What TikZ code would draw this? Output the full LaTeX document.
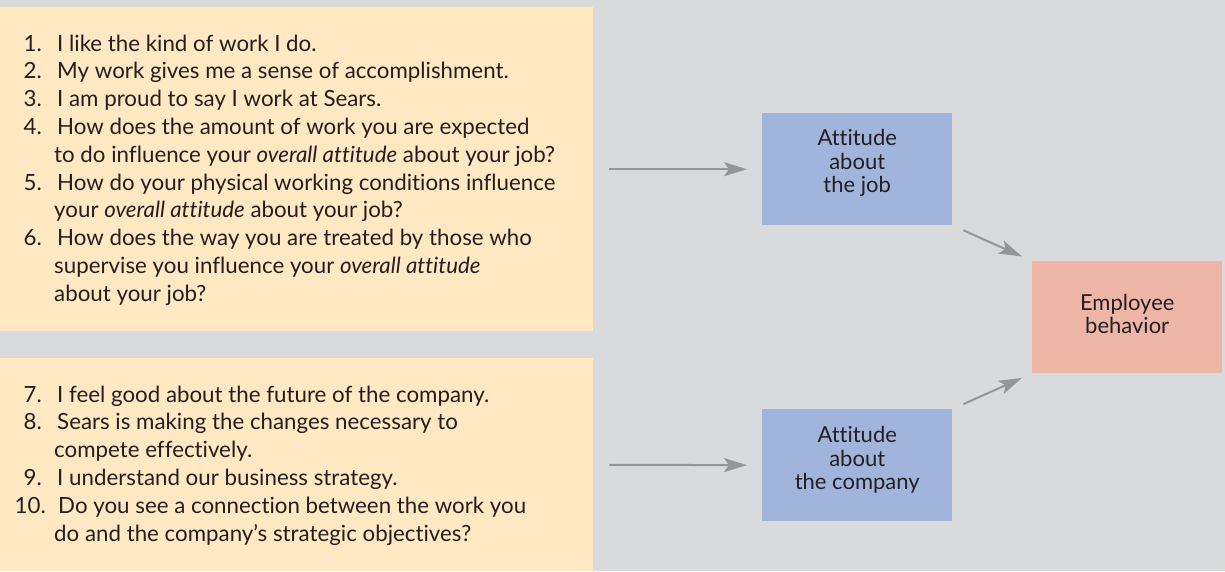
\documentclass[tikz,border=0pt]{standalone}
\usepackage{fontspec}
\setmainfont{Lato}[Ligatures=NoCommon]
\usetikzlibrary{arrows.meta}
\definecolor{bg}{HTML}{D9DADC}
\definecolor{ylw}{HTML}{FFE8C2}
\definecolor{blu}{HTML}{A1B5DC}
\definecolor{pnk}{HTML}{EDB6A7}
\definecolor{arr}{HTML}{939598}
\definecolor{txt}{HTML}{231F20}
\begin{document}
\begin{tikzpicture}[x=1pt,y=-1pt,
  panel/.style={fill=ylw, draw=none, inner sep=0, anchor=north west},
  box/.style={fill=#1, draw=none, inner sep=0, minimum width=190pt, minimum height=112pt, anchor=north west},
  num/.style={anchor=base east, inner sep=0, text=txt, font=\fontsize{22.3}{28}\selectfont},
  itm/.style={anchor=base west, inner sep=0, text=txt, font=\fontsize{22.3}{28}\selectfont},
  lbl/.style={inner sep=0, text=txt, align=center, font=\fontsize{22}{23.5}\selectfont},
  flow/.style={draw=arr, line width=2pt, -{Stealth[length=23pt,width=14pt,inset=5pt]}}
]
\useasboundingbox (0,0) rectangle (1225,571);
\fill[bg] (0,0) rectangle (1225,571);
% panels
\node[panel, minimum width=593pt, minimum height=324pt] (p1) at (0,7) {};
\node[panel, minimum width=593pt, minimum height=213pt] (p2) at (0,358) {};
% top list
\node[num] (n1) at (42,51) {1.};
\node[itm] (t1) at (57,51) {I like the kind of work I do.};
\node[num] (n2) at (42,78.8) {2.};
\node[itm] (t2) at (57,78.8) {My work gives me a sense of accomplishment.};
\node[num] (n3) at (42,106.6) {3.};
\node[itm] (t3) at (57,106.6) {I am proud to say I work at Sears.};
\node[num] (n4) at (42,134.4) {4.};
\node[itm] (t4) at (57,134.4) {How does the amount of work you are expected};
\node[itm] (t4b) at (54,162.2) {to do influence your \textit{overall attitude} about your job?};
\node[num] (n5) at (42,190) {5.};
\node[itm] (t5) at (57,190) {How do your physical working conditions influence};
\node[itm] (t5b) at (54,217.8) {your \textit{overall attitude} about your job?};
\node[num] (n6) at (42,245.6) {6.};
\node[itm] (t6) at (57,245.6) {How does the way you are treated by those who};
\node[itm] (t6b) at (54,273.4) {supervise you influence your \textit{overall attitude}};
\node[itm] (t6c) at (54,301.2) {about your job?};
% bottom list
\node[num] (n7) at (42,402) {7.};
\node[itm] (t7) at (57,402) {I feel good about the future of the company.};
\node[num] (n8) at (42,429.8) {8.};
\node[itm] (t8) at (57,429.8) {Sears is making the changes necessary to};
\node[itm] (t8b) at (54,457.6) {compete effectively.};
\node[num] (n9) at (42,485.4) {9.};
\node[itm] (t9) at (57,485.4) {I understand our business strategy.};
\node[num] (n10) at (46,513.2) {10.};
\node[itm] (t10) at (58,513.2) {Do you see a connection between the work you};
\node[itm] (t10b) at (54,541) {do and the company’s strategic objectives?};
% boxes
\node[box=blu] (job) at (762,113) {};
\node[box=blu] (comp) at (762,409) {};
\node[box=pnk] (beh) at (1032,261) {};
\node[lbl] (jobt) at ([yshift=6pt]job.center) {Attitude\\about\\the job};
\node[lbl] (compt) at ([yshift=5pt]comp.center) {Attitude\\about\\the company};
\node[lbl] (beht) at ([yshift=3pt]beh.center) {Employee\\behavior};
% arrows
\draw[flow, shorten <=16pt, shorten >=15pt] (p1.east) -- (job.west);
\draw[flow, shorten <=16pt, shorten >=15pt] (p2.east) -- (comp.west);
\draw[flow, shorten <=12pt, shorten >=11pt] (job.south east) -- (beh.north west);
\draw[flow, shorten <=12pt, shorten >=11pt] (comp.north east) -- (beh.south west);
\end{tikzpicture}
\end{document}
